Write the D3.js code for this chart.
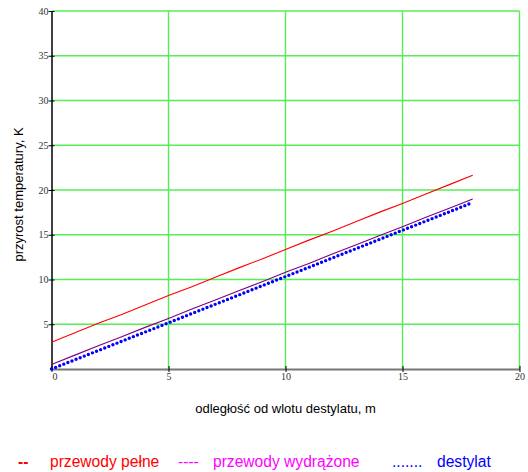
<!DOCTYPE html>
<html>
<head>
<meta charset="utf-8">
<script src="https://cdn.jsdelivr.net/npm/d3@7"></script>
<style>
body { margin:0; background:#fff; }
.tick text { font-family: "Liberation Serif", "DejaVu Serif", serif; font-size:10px; fill:#333; }
.title { font-family: "Liberation Sans", Arial, sans-serif; font-size:13px; fill:#000; }
.leg { font-family: "Liberation Sans", Arial, sans-serif; font-size:15.6px; }
</style>
</head>
<body>
<svg id="chart"></svg>
<script>
// odleglosc od wlotu, m
var xs = [0,1,2,3,4,5,6,7,8,9,10,11,12,13,14,15,16,17,18]
// przyrost temperatury, K
var pelne = [3.0,4.05,5.1,6.1,7.15,8.2,9.2,10.25,11.3,12.3,13.35,14.4,15.4,16.45,17.5,18.5,19.55,20.6,21.65]
var wydrazone = [0.5,1.55,2.6,3.6,4.65,5.65,6.7,7.7,8.75,9.75,10.8,11.8,12.85,13.85,14.9,15.9,16.95,17.95,19.0]
var destylat = [0,1.03,2.06,3.1,4.13,5.16,6.2,7.23,8.26,9.3,10.33,11.36,12.4,13.43,14.46,15.5,16.53,17.56,18.6]
var xTicks = [0,5,10,15,20]
var yTicks = [5,10,15,20,25,30,35,40]

var makeTranslateString = function(x,y) {
    return "translate(" + x + "," + y + ")";
}

var screen = {width:528,height:472}
var margins = {left:51.5,top:11,right:8.5,bottom:103}
var graph = {
    width: screen.width-margins.left-margins.right,
    height: screen.height-margins.top-margins.bottom
}

var svg = d3.select("#chart")
    .attr("width",screen.width)
    .attr("height",screen.height)

var xScale = d3.scaleLinear().domain([0,20]).range([0,graph.width])
var yScale = d3.scaleLinear().domain([0,40]).range([graph.height,0])

var target = svg.append("g")
    .attr("transform",makeTranslateString(margins.left,margins.top))

// grid
target.append("g").selectAll("line")
    .data(yTicks)
    .enter()
    .append("line")
    .attr("x1",0).attr("x2",graph.width)
    .attr("y1",function(d){return yScale(d)})
    .attr("y2",function(d){return yScale(d)})
    .attr("stroke","#55ee55").attr("stroke-width",1.4)

target.append("g").selectAll("line")
    .data(xTicks.slice(1))
    .enter()
    .append("line")
    .attr("y1",0).attr("y2",graph.height)
    .attr("x1",function(d){return xScale(d)})
    .attr("x2",function(d){return xScale(d)})
    .attr("stroke","#55ee55").attr("stroke-width",1.4)

// axes
var xAxis = d3.axisBottom(xScale).tickValues(xTicks).tickSize(3).tickSizeOuter(0)
var yAxis = d3.axisLeft(yScale).tickValues(yTicks).tickSize(3).tickSizeOuter(0)

var gx = target.append("g")
    .attr("transform",makeTranslateString(0,graph.height))
    .call(xAxis)
gx.select(".domain").attr("stroke","#777").attr("stroke-width",2)
gx.selectAll(".tick line").attr("stroke","#000").attr("y1",-3).attr("y2",3)
gx.selectAll(".tick text").attr("dy","0.5em").attr("y",6)
gx.selectAll(".tick text").filter(function(d){return d==0}).attr("dx","3")

var gy = target.append("g").call(yAxis)
gy.select(".domain").attr("stroke","#000").attr("stroke-width",1.5)
gy.selectAll(".tick line").attr("stroke","#000").attr("x1",-3).attr("x2",3)
gy.selectAll(".tick text").attr("x",-3)

// lines
var line = d3.line()
    .x(function(d){return xScale(d[0])})
    .y(function(d){return yScale(d[1])})

var series = [
    {vals:pelne, color:"#ff0000", width:1.1, dash:null},
    {vals:wydrazone, color:"#800080", width:1.1, dash:null},
    {vals:destylat, color:"#0000ff", width:3.4, dash:"0,4.4"}
]

series.forEach(function(s){
    var pts = xs.map(function(x,i){return [x,s.vals[i]]})
    var p = target.append("path")
        .attr("d",line(pts))
        .attr("fill","none")
        .attr("stroke",s.color)
        .attr("stroke-width",s.width)
    if (s.dash) {
        p.attr("stroke-dasharray",s.dash).attr("stroke-linecap","round")
    }
})

// labels
svg.append("text")
    .text("odległość od wlotu destylatu, m")
    .classed("title",true)
    .attr("text-anchor","middle")
    .attr("x",margins.left+xScale(10))
    .attr("y",413)

svg.append("g")
    .attr("transform",makeTranslateString(23,margins.top+yScale(19.5)))
    .append("text")
    .text("przyrost temperatury, K")
    .classed("title",true)
    .attr("text-anchor","middle")
    .attr("transform","rotate(270)")

// legend
var legend = [
    {sym:"--", x:18, tx:50, label:"przewody pełne", color:"#ff0000", bold:true},
    {sym:"----", x:178, tx:213, label:"przewody wydrążone", color:"#ff00ff", bold:false},
    {sym:".......", x:392, tx:437, label:"destylat", color:"#0000ff", bold:false}
]
var lg = svg.append("g").classed("leg",true)
legend.forEach(function(l){
    lg.append("text").text(l.sym).attr("x",l.x).attr("y",467).attr("fill",l.color)
        .attr("font-weight",l.bold?"bold":"normal")
    lg.append("text").text(l.label).attr("x",l.tx).attr("y",467).attr("fill",l.color)
})
</script>
</body>
</html>
